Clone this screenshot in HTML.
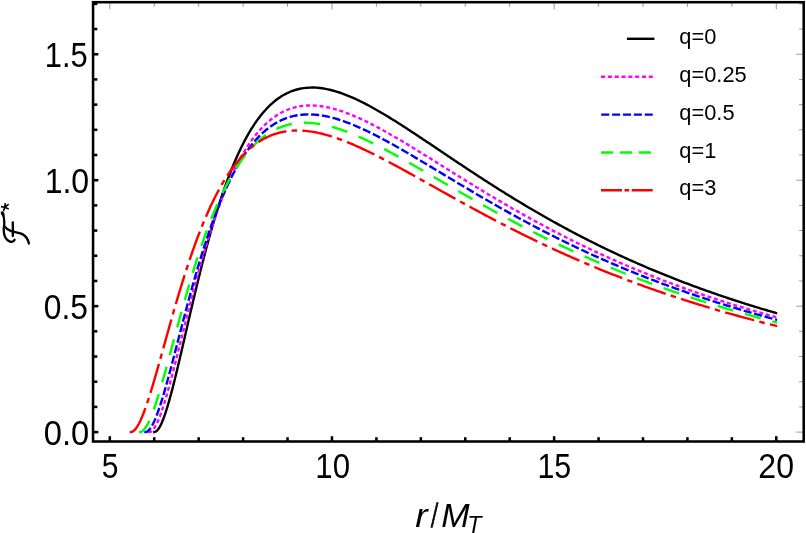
<!DOCTYPE html>
<html lang="en">
<head>
<meta charset="utf-8">
<title>Flux plot</title>
<style>
html,body{margin:0;padding:0;background:#ffffff;}
body{width:806px;height:533px;overflow:hidden;font-family:"Liberation Sans",sans-serif;}
svg{display:block;will-change:transform;}
text{font-family:"Liberation Sans",sans-serif;fill:#000;}
.tick{font-size:33px;}
.leg{font-size:21.6px;}
</style>
</head>
<body>
<svg width="806" height="533" viewBox="0 0 806 533">
<rect x="0" y="0" width="806" height="533" fill="#ffffff"/>
<g fill="none" stroke-width="2.4" stroke-linejoin="round" stroke-linecap="butt">
<path d="M153.13 432.10 L154.23 432.10 L156.10 431.45 L157.57 430.08 L158.76 428.47 L159.80 426.76 L160.73 424.97 L161.58 423.16 L162.37 421.31 L163.12 419.45 L163.83 417.57 L164.51 415.68 L165.17 413.79 L165.80 411.88 L166.41 409.97 L167.01 408.06 L167.60 406.14 L168.17 404.21 L168.73 402.28 L169.28 400.35 L169.82 398.42 L170.36 396.48 L170.88 394.55 L171.40 392.61 L171.91 390.67 L172.42 388.72 L172.92 386.78 L173.42 384.84 L173.91 382.89 L174.39 380.94 L174.88 378.99 L175.36 377.05 L175.84 375.10 L176.31 373.14 L176.78 371.19 L177.25 369.24 L177.72 367.29 L178.18 365.34 L178.65 363.38 L179.11 361.43 L179.57 359.48 L180.03 357.52 L180.48 355.57 L180.94 353.61 L181.39 351.66 L181.85 349.70 L182.30 347.75 L182.75 345.79 L183.21 343.83 L183.66 341.88 L184.11 339.92 L184.56 337.97 L185.01 336.01 L185.46 334.05 L185.91 332.10 L186.36 330.14 L186.81 328.19 L187.27 326.23 L187.72 324.27 L188.17 322.32 L188.62 320.36 L189.07 318.41 L189.53 316.45 L189.98 314.50 L190.44 312.54 L190.89 310.59 L191.35 308.63 L191.81 306.68 L192.27 304.72 L192.73 302.77 L193.19 300.81 L193.65 298.86 L194.11 296.91 L194.58 294.95 L195.04 293.00 L195.51 291.05 L195.98 289.10 L196.45 287.15 L196.92 285.20 L197.40 283.25 L197.87 281.29 L198.35 279.35 L198.83 277.40 L199.31 275.45 L199.80 273.50 L200.28 271.55 L200.77 269.60 L201.26 267.66 L201.75 265.71 L202.25 263.77 L202.75 261.82 L203.25 259.88 L203.75 257.93 L204.25 255.99 L204.76 254.05 L205.27 252.11 L205.79 250.17 L206.30 248.23 L206.82 246.29 L207.35 244.35 L207.87 242.41 L208.40 240.48 L208.93 238.54 L209.47 236.61 L210.01 234.67 L210.56 232.74 L211.10 230.81 L211.65 228.88 L212.21 226.95 L212.77 225.02 L213.33 223.10 L213.90 221.17 L214.47 219.25 L215.05 217.32 L215.63 215.40 L216.22 213.48 L216.81 211.57 L217.41 209.65 L218.01 207.73 L218.61 205.82 L219.23 203.91 L219.84 202.00 L220.47 200.09 L221.10 198.18 L221.73 196.28 L222.37 194.38 L223.02 192.48 L223.67 190.58 L224.34 188.68 L225.00 186.79 L225.68 184.90 L226.36 183.01 L227.05 181.13 L227.75 179.25 L228.45 177.37 L229.17 175.49 L229.89 173.62 L230.62 171.75 L231.36 169.88 L232.11 168.02 L232.87 166.16 L233.64 164.31 L234.42 162.46 L235.21 160.61 L236.01 158.77 L236.82 156.93 L237.64 155.10 L238.48 153.28 L239.32 151.46 L240.18 149.64 L241.06 147.84 L241.94 146.03 L242.84 144.24 L243.76 142.45 L244.69 140.67 L245.64 138.90 L246.60 137.14 L247.58 135.39 L248.57 133.65 L249.59 131.92 L250.62 130.19 L251.67 128.49 L252.75 126.79 L253.84 125.11 L254.96 123.44 L256.09 121.78 L257.26 120.15 L258.44 118.53 L259.65 116.93 L260.89 115.34 L262.15 113.79 L263.44 112.25 L264.77 110.74 L266.12 109.25 L267.50 107.79 L268.91 106.37 L270.35 104.97 L271.83 103.61 L273.34 102.29 L274.88 101.01 L276.46 99.77 L278.08 98.58 L279.73 97.43 L281.41 96.34 L283.12 95.30 L284.87 94.31 L286.66 93.39 L288.47 92.53 L290.31 91.73 L292.18 91.00 L294.08 90.34 L296.00 89.75 L297.93 89.23 L299.89 88.78 L301.86 88.40 L303.85 88.09 L305.84 87.86 L307.84 87.69 L309.84 87.59 L311.85 87.55 L313.86 87.57 L315.86 87.66 L317.87 87.81 L319.86 88.01 L321.85 88.26 L323.84 88.56 L325.81 88.92 L327.78 89.31 L329.74 89.75 L331.69 90.23 L333.63 90.75 L335.56 91.30 L337.48 91.89 L339.39 92.51 L341.29 93.16 L343.18 93.84 L345.05 94.55 L346.92 95.28 L348.78 96.03 L350.64 96.81 L352.48 97.61 L354.31 98.43 L356.14 99.26 L357.95 100.12 L359.76 100.99 L361.56 101.87 L363.36 102.78 L365.14 103.69 L366.92 104.62 L368.69 105.56 L370.46 106.51 L372.22 107.48 L373.98 108.45 L375.73 109.44 L377.47 110.43 L379.21 111.43 L380.94 112.44 L382.67 113.46 L384.40 114.49 L386.12 115.52 L387.84 116.56 L389.55 117.61 L391.26 118.66 L392.96 119.72 L394.67 120.78 L396.37 121.85 L398.06 122.92 L399.76 124.00 L401.45 125.08 L403.14 126.17 L404.83 127.25 L406.51 128.35 L408.19 129.44 L409.87 130.54 L411.55 131.64 L413.23 132.74 L414.91 133.85 L416.58 134.95 L418.25 136.06 L419.93 137.17 L421.60 138.28 L423.27 139.40 L424.94 140.51 L426.61 141.63 L428.27 142.75 L429.94 143.86 L431.61 144.98 L433.27 146.10 L434.94 147.22 L436.61 148.34 L438.27 149.46 L439.94 150.58 L441.60 151.70 L443.27 152.82 L444.94 153.94 L446.60 155.06 L448.27 156.18 L449.94 157.30 L451.61 158.41 L453.27 159.53 L454.94 160.65 L456.61 161.76 L458.28 162.88 L459.95 163.99 L461.62 165.10 L463.29 166.21 L464.97 167.32 L466.64 168.43 L468.32 169.54 L469.99 170.64 L471.67 171.75 L473.35 172.85 L475.02 173.95 L476.70 175.05 L478.39 176.14 L480.07 177.24 L481.75 178.33 L483.44 179.42 L485.12 180.51 L486.81 181.60 L488.50 182.69 L490.19 183.77 L491.88 184.85 L493.57 185.93 L495.27 187.00 L496.96 188.08 L498.66 189.15 L500.36 190.22 L502.06 191.28 L503.76 192.35 L505.47 193.41 L507.17 194.47 L508.88 195.52 L510.59 196.58 L512.30 197.63 L514.01 198.68 L515.73 199.72 L517.44 200.76 L519.16 201.80 L520.88 202.84 L522.60 203.87 L524.32 204.90 L526.05 205.93 L527.77 206.96 L529.50 207.98 L531.23 209.00 L532.96 210.01 L534.69 211.02 L536.43 212.03 L538.17 213.04 L539.91 214.04 L541.65 215.04 L543.39 216.04 L545.13 217.03 L546.88 218.02 L548.63 219.01 L550.38 219.99 L552.13 220.97 L553.89 221.95 L555.64 222.92 L557.40 223.89 L559.16 224.85 L560.92 225.82 L562.68 226.78 L564.45 227.73 L566.22 228.68 L567.98 229.63 L569.76 230.58 L571.53 231.52 L573.30 232.46 L575.08 233.39 L576.86 234.32 L578.64 235.25 L580.42 236.18 L582.20 237.10 L583.99 238.01 L585.78 238.93 L587.57 239.84 L589.36 240.74 L591.15 241.64 L592.95 242.54 L594.74 243.44 L596.54 244.33 L598.34 245.22 L600.15 246.10 L601.95 246.98 L603.76 247.86 L605.56 248.73 L607.37 249.60 L609.18 250.46 L611.00 251.33 L612.81 252.18 L614.63 253.04 L616.45 253.89 L618.27 254.74 L620.09 255.58 L621.91 256.42 L623.74 257.25 L625.56 258.09 L627.39 258.91 L629.22 259.74 L631.05 260.56 L632.89 261.38 L634.72 262.19 L636.56 263.00 L638.40 263.81 L640.24 264.61 L642.08 265.41 L643.92 266.20 L645.77 266.99 L647.62 267.78 L649.46 268.56 L651.31 269.34 L653.16 270.12 L655.02 270.89 L656.87 271.66 L658.73 272.43 L660.58 273.19 L662.44 273.95 L664.30 274.70 L666.16 275.45 L668.03 276.20 L669.89 276.94 L671.76 277.68 L673.63 278.42 L675.49 279.15 L677.37 279.88 L679.24 280.61 L681.11 281.33 L682.98 282.05 L684.86 282.76 L686.74 283.47 L688.62 284.18 L690.50 284.88 L692.38 285.58 L694.26 286.28 L696.14 286.97 L698.03 287.66 L699.91 288.35 L701.80 289.03 L703.69 289.71 L705.58 290.39 L707.47 291.06 L709.37 291.73 L711.26 292.40 L713.15 293.06 L715.05 293.72 L716.95 294.37 L718.85 295.03 L720.75 295.67 L722.65 296.32 L724.55 296.96 L726.45 297.60 L728.36 298.24 L730.26 298.87 L732.17 299.50 L734.08 300.12 L735.98 300.74 L737.89 301.36 L739.80 301.98 L741.72 302.59 L743.63 303.20 L745.54 303.81 L747.46 304.41 L749.37 305.01 L751.29 305.60 L753.21 306.20 L755.13 306.79 L757.05 307.37 L758.97 307.96 L760.89 308.54 L762.81 309.12 L764.73 309.69 L766.66 310.26 L768.58 310.83 L770.51 311.40 L772.44 311.96 L774.36 312.52 L776.29 313.07 L777.16 313.31" stroke="#000000"/>
<path d="M148.16 432.10 L149.26 432.10 L151.15 431.49 L152.67 430.19 L153.92 428.63 L155.01 426.94 L155.99 425.18 L156.89 423.39 L157.73 421.56 L158.52 419.72 L159.27 417.85 L159.99 415.98 L160.69 414.09 L161.36 412.20 L162.01 410.30 L162.65 408.39 L163.27 406.48 L163.87 404.57 L164.47 402.65 L165.05 400.73 L165.63 398.80 L166.19 396.87 L166.75 394.94 L167.30 393.01 L167.85 391.08 L168.39 389.14 L168.92 387.21 L169.45 385.27 L169.97 383.33 L170.49 381.39 L171.01 379.45 L171.52 377.51 L172.03 375.56 L172.54 373.62 L173.04 371.67 L173.54 369.73 L174.04 367.78 L174.54 365.84 L175.03 363.89 L175.52 361.94 L176.02 359.99 L176.51 358.05 L177.00 356.10 L177.49 354.15 L177.97 352.20 L178.46 350.25 L178.95 348.30 L179.43 346.35 L179.92 344.40 L180.40 342.45 L180.89 340.50 L181.37 338.55 L181.86 336.60 L182.34 334.65 L182.83 332.71 L183.31 330.76 L183.80 328.81 L184.28 326.86 L184.77 324.91 L185.26 322.96 L185.75 321.01 L186.23 319.06 L186.72 317.11 L187.22 315.17 L187.71 313.22 L188.20 311.27 L188.69 309.32 L189.19 307.38 L189.69 305.43 L190.19 303.48 L190.69 301.54 L191.19 299.59 L191.69 297.65 L192.20 295.70 L192.70 293.76 L193.21 291.82 L193.72 289.87 L194.23 287.93 L194.75 285.99 L195.27 284.05 L195.78 282.11 L196.31 280.17 L196.83 278.23 L197.36 276.29 L197.89 274.35 L198.42 272.41 L198.95 270.48 L199.49 268.54 L200.03 266.61 L200.57 264.67 L201.12 262.74 L201.67 260.81 L202.22 258.88 L202.78 256.95 L203.34 255.02 L203.90 253.09 L204.47 251.16 L205.04 249.24 L205.61 247.31 L206.19 245.39 L206.77 243.46 L207.36 241.54 L207.95 239.62 L208.55 237.70 L209.15 235.79 L209.75 233.87 L210.36 231.96 L210.97 230.04 L211.59 228.13 L212.22 226.22 L212.85 224.32 L213.48 222.41 L214.12 220.51 L214.77 218.60 L215.42 216.70 L216.08 214.81 L216.75 212.91 L217.42 211.02 L218.09 209.13 L218.78 207.24 L219.47 205.35 L220.17 203.47 L220.87 201.59 L221.59 199.71 L222.31 197.83 L223.04 195.96 L223.78 194.09 L224.52 192.23 L225.28 190.37 L226.04 188.51 L226.81 186.65 L227.60 184.80 L228.39 182.96 L229.19 181.12 L230.00 179.28 L230.83 177.45 L231.66 175.62 L232.51 173.80 L233.37 171.98 L234.24 170.17 L235.12 168.37 L236.02 166.57 L236.93 164.78 L237.85 162.99 L238.79 161.22 L239.74 159.45 L240.71 157.69 L241.70 155.94 L242.70 154.20 L243.72 152.47 L244.76 150.75 L245.81 149.04 L246.88 147.34 L247.98 145.65 L249.09 143.98 L250.23 142.32 L251.38 140.68 L252.56 139.06 L253.77 137.45 L254.99 135.86 L256.25 134.29 L257.53 132.74 L258.83 131.21 L260.16 129.71 L261.52 128.23 L262.91 126.78 L264.33 125.36 L265.78 123.97 L267.26 122.61 L268.77 121.29 L270.32 120.00 L271.90 118.76 L273.50 117.55 L275.15 116.40 L276.82 115.28 L278.53 114.22 L280.26 113.22 L282.03 112.26 L283.83 111.37 L285.66 110.53 L287.51 109.75 L289.39 109.04 L291.29 108.39 L293.21 107.80 L295.15 107.29 L297.11 106.83 L299.08 106.44 L301.06 106.12 L303.05 105.86 L305.05 105.67 L307.06 105.54 L309.06 105.47 L311.07 105.45 L313.08 105.50 L315.09 105.60 L317.09 105.75 L319.09 105.95 L321.08 106.20 L323.07 106.49 L325.05 106.83 L327.02 107.21 L328.99 107.63 L330.94 108.08 L332.89 108.57 L334.83 109.09 L336.76 109.65 L338.69 110.23 L340.60 110.84 L342.50 111.48 L344.40 112.15 L346.29 112.83 L348.17 113.54 L350.04 114.28 L351.90 115.03 L353.76 115.80 L355.60 116.58 L357.44 117.39 L359.28 118.21 L361.10 119.05 L362.92 119.90 L364.74 120.76 L366.55 121.64 L368.35 122.52 L370.14 123.42 L371.93 124.34 L373.72 125.26 L375.50 126.19 L377.27 127.13 L379.05 128.08 L380.81 129.03 L382.57 130.00 L384.33 130.97 L386.09 131.95 L387.84 132.93 L389.58 133.93 L391.33 134.92 L393.07 135.93 L394.81 136.93 L396.54 137.95 L398.27 138.96 L400.00 139.99 L401.73 141.01 L403.46 142.04 L405.18 143.07 L406.90 144.11 L408.62 145.15 L410.34 146.19 L412.05 147.24 L413.77 148.28 L415.48 149.33 L417.19 150.39 L418.90 151.44 L420.61 152.49 L422.32 153.55 L424.03 154.61 L425.73 155.67 L427.44 156.73 L429.14 157.79 L430.85 158.85 L432.55 159.92 L434.26 160.98 L435.96 162.04 L437.67 163.11 L439.37 164.17 L441.07 165.24 L442.78 166.30 L444.48 167.37 L446.18 168.43 L447.89 169.50 L449.59 170.56 L451.30 171.62 L453.00 172.68 L454.71 173.75 L456.41 174.81 L458.12 175.87 L459.83 176.93 L461.54 177.98 L463.24 179.04 L464.95 180.10 L466.66 181.15 L468.37 182.20 L470.09 183.26 L471.80 184.31 L473.51 185.35 L475.23 186.40 L476.94 187.45 L478.66 188.49 L480.38 189.53 L482.09 190.57 L483.81 191.61 L485.53 192.65 L487.26 193.68 L488.98 194.71 L490.71 195.74 L492.43 196.77 L494.16 197.80 L495.89 198.82 L497.62 199.84 L499.35 200.86 L501.08 201.88 L502.82 202.89 L504.55 203.90 L506.29 204.91 L508.03 205.92 L509.77 206.92 L511.51 207.92 L513.25 208.92 L515.00 209.92 L516.74 210.91 L518.49 211.90 L520.24 212.89 L521.99 213.87 L523.74 214.86 L525.50 215.84 L527.25 216.81 L529.01 217.79 L530.77 218.76 L532.53 219.72 L534.29 220.69 L536.05 221.65 L537.82 222.61 L539.59 223.56 L541.36 224.52 L543.13 225.47 L544.90 226.41 L546.67 227.35 L548.45 228.29 L550.23 229.23 L552.00 230.16 L553.79 231.09 L555.57 232.02 L557.35 232.94 L559.14 233.86 L560.93 234.78 L562.71 235.69 L564.51 236.60 L566.30 237.51 L568.09 238.41 L569.89 239.31 L571.69 240.21 L573.49 241.10 L575.29 241.99 L577.09 242.88 L578.89 243.76 L580.70 244.64 L582.51 245.52 L584.32 246.39 L586.13 247.26 L587.94 248.12 L589.76 248.98 L591.57 249.84 L593.39 250.70 L595.21 251.55 L597.03 252.40 L598.85 253.24 L600.68 254.08 L602.51 254.92 L604.33 255.75 L606.16 256.58 L607.99 257.41 L609.83 258.23 L611.66 259.05 L613.50 259.87 L615.33 260.68 L617.17 261.49 L619.01 262.30 L620.85 263.10 L622.70 263.89 L624.54 264.69 L626.39 265.48 L628.24 266.27 L630.09 267.05 L631.94 267.83 L633.79 268.61 L635.65 269.38 L637.50 270.15 L639.36 270.92 L641.22 271.68 L643.08 272.44 L644.94 273.20 L646.80 273.95 L648.66 274.70 L650.53 275.44 L652.40 276.18 L654.27 276.92 L656.14 277.65 L658.01 278.38 L659.88 279.11 L661.75 279.84 L663.63 280.56 L665.51 281.27 L667.38 281.99 L669.26 282.70 L671.14 283.40 L673.03 284.11 L674.91 284.81 L676.79 285.50 L678.68 286.19 L680.57 286.88 L682.45 287.57 L684.34 288.25 L686.23 288.93 L688.13 289.61 L690.02 290.28 L691.91 290.95 L693.81 291.61 L695.70 292.28 L697.60 292.93 L699.50 293.59 L701.40 294.24 L703.30 294.89 L705.21 295.54 L707.11 296.18 L709.01 296.82 L710.92 297.45 L712.83 298.09 L714.73 298.72 L716.64 299.34 L718.55 299.96 L720.46 300.58 L722.37 301.20 L724.29 301.81 L726.20 302.42 L728.12 303.03 L730.03 303.63 L731.95 304.24 L733.87 304.83 L735.79 305.43 L737.71 306.02 L739.63 306.61 L741.55 307.19 L743.47 307.77 L745.40 308.35 L747.32 308.93 L749.25 309.50 L751.17 310.07 L753.10 310.64 L755.03 311.20 L756.96 311.76 L758.89 312.32 L760.82 312.87 L762.75 313.43 L764.68 313.97 L766.62 314.52 L768.55 315.06 L770.48 315.60 L772.42 316.14 L774.36 316.68 L776.29 317.20 L777.16 317.44" stroke="#ff00ff" stroke-dasharray="4.06 2.72" stroke-dashoffset="0"/>
<path d="M144.29 432.10 L145.39 432.10 L147.29 431.52 L148.84 430.25 L150.13 428.71 L151.24 427.04 L152.25 425.30 L153.17 423.52 L154.03 421.70 L154.85 419.87 L155.62 418.01 L156.37 416.15 L157.08 414.27 L157.77 412.38 L158.44 410.49 L159.10 408.59 L159.74 406.69 L160.36 404.78 L160.98 402.87 L161.58 400.95 L162.17 399.03 L162.76 397.11 L163.33 395.18 L163.90 393.26 L164.46 391.33 L165.02 389.40 L165.57 387.47 L166.12 385.53 L166.66 383.60 L167.19 381.66 L167.73 379.73 L168.26 377.79 L168.78 375.85 L169.31 373.91 L169.83 371.97 L170.35 370.03 L170.86 368.09 L171.38 366.15 L171.89 364.20 L172.40 362.26 L172.91 360.32 L173.42 358.37 L173.92 356.43 L174.43 354.49 L174.93 352.54 L175.44 350.60 L175.94 348.65 L176.45 346.71 L176.95 344.76 L177.45 342.82 L177.96 340.87 L178.46 338.93 L178.96 336.98 L179.47 335.04 L179.97 333.10 L180.47 331.15 L180.98 329.21 L181.48 327.26 L181.99 325.32 L182.50 323.37 L183.00 321.43 L183.51 319.49 L184.02 317.54 L184.53 315.60 L185.05 313.66 L185.56 311.72 L186.07 309.78 L186.59 307.83 L187.11 305.89 L187.63 303.95 L188.15 302.01 L188.67 300.07 L189.20 298.13 L189.73 296.20 L190.25 294.26 L190.79 292.32 L191.32 290.38 L191.86 288.45 L192.39 286.51 L192.93 284.58 L193.48 282.64 L194.02 280.71 L194.57 278.78 L195.12 276.85 L195.68 274.92 L196.23 272.99 L196.80 271.06 L197.36 269.13 L197.93 267.20 L198.50 265.28 L199.07 263.35 L199.65 261.43 L200.23 259.50 L200.81 257.58 L201.40 255.66 L201.99 253.74 L202.59 251.82 L203.19 249.91 L203.80 247.99 L204.40 246.08 L205.02 244.16 L205.64 242.25 L206.26 240.34 L206.89 238.44 L207.52 236.53 L208.16 234.63 L208.81 232.72 L209.46 230.82 L210.11 228.92 L210.77 227.03 L211.44 225.13 L212.11 223.24 L212.79 221.35 L213.48 219.46 L214.17 217.57 L214.87 215.69 L215.58 213.81 L216.29 211.93 L217.01 210.06 L217.74 208.19 L218.48 206.32 L219.22 204.45 L219.98 202.59 L220.74 200.73 L221.51 198.88 L222.29 197.03 L223.08 195.18 L223.88 193.34 L224.69 191.50 L225.51 189.66 L226.34 187.83 L227.18 186.01 L228.03 184.19 L228.89 182.38 L229.77 180.57 L230.66 178.77 L231.56 176.97 L232.47 175.18 L233.40 173.40 L234.34 171.63 L235.30 169.86 L236.27 168.10 L237.26 166.35 L238.26 164.61 L239.28 162.88 L240.32 161.16 L241.37 159.45 L242.45 157.75 L243.54 156.07 L244.65 154.40 L245.79 152.74 L246.94 151.09 L248.12 149.46 L249.31 147.85 L250.54 146.26 L251.78 144.68 L253.05 143.13 L254.35 141.59 L255.67 140.08 L257.02 138.59 L258.40 137.13 L259.80 135.69 L261.24 134.29 L262.70 132.91 L264.20 131.57 L265.72 130.27 L267.28 129.00 L268.87 127.77 L270.49 126.58 L272.14 125.43 L273.82 124.34 L275.54 123.29 L277.28 122.29 L279.05 121.35 L280.85 120.46 L282.68 119.62 L284.53 118.85 L286.41 118.14 L288.31 117.49 L290.23 116.90 L292.17 116.37 L294.13 115.91 L296.10 115.51 L298.08 115.17 L300.07 114.90 L302.06 114.69 L304.07 114.53 L306.07 114.44 L308.08 114.40 L310.09 114.42 L312.10 114.48 L314.10 114.60 L316.10 114.77 L318.10 114.99 L320.09 115.25 L322.08 115.55 L324.06 115.90 L326.03 116.28 L327.99 116.70 L329.95 117.15 L331.90 117.63 L333.84 118.15 L335.77 118.70 L337.70 119.27 L339.62 119.88 L341.52 120.50 L343.43 121.15 L345.32 121.82 L347.20 122.52 L349.08 123.23 L350.95 123.97 L352.81 124.72 L354.67 125.49 L356.52 126.27 L358.36 127.07 L360.20 127.88 L362.03 128.71 L363.85 129.55 L365.67 130.41 L367.48 131.27 L369.29 132.15 L371.09 133.03 L372.89 133.93 L374.69 134.84 L376.47 135.75 L378.26 136.67 L380.04 137.61 L381.81 138.54 L383.59 139.49 L385.35 140.44 L387.12 141.40 L388.88 142.37 L390.64 143.34 L392.40 144.31 L394.15 145.29 L395.90 146.28 L397.65 147.27 L399.39 148.26 L401.14 149.26 L402.88 150.26 L404.62 151.27 L406.35 152.28 L408.09 153.29 L409.82 154.30 L411.56 155.32 L413.29 156.34 L415.02 157.36 L416.75 158.38 L418.47 159.41 L420.20 160.43 L421.93 161.46 L423.65 162.49 L425.38 163.52 L427.10 164.55 L428.82 165.59 L430.54 166.62 L432.27 167.65 L433.99 168.69 L435.71 169.72 L437.43 170.76 L439.15 171.79 L440.87 172.83 L442.60 173.87 L444.32 174.90 L446.04 175.94 L447.76 176.97 L449.48 178.01 L451.20 179.04 L452.93 180.07 L454.65 181.10 L456.37 182.14 L458.10 183.17 L459.82 184.20 L461.55 185.23 L463.27 186.25 L465.00 187.28 L466.73 188.30 L468.46 189.33 L470.19 190.35 L471.92 191.37 L473.65 192.39 L475.38 193.41 L477.11 194.42 L478.85 195.44 L480.58 196.45 L482.32 197.46 L484.05 198.47 L485.79 199.48 L487.53 200.48 L489.27 201.49 L491.01 202.49 L492.76 203.49 L494.50 204.48 L496.25 205.48 L497.99 206.47 L499.74 207.46 L501.49 208.45 L503.24 209.43 L504.99 210.41 L506.75 211.39 L508.50 212.37 L510.26 213.35 L512.02 214.32 L513.78 215.29 L515.54 216.25 L517.30 217.22 L519.06 218.18 L520.83 219.14 L522.59 220.10 L524.36 221.05 L526.13 222.00 L527.90 222.95 L529.68 223.89 L531.45 224.83 L533.23 225.77 L535.00 226.71 L536.78 227.64 L538.56 228.57 L540.35 229.50 L542.13 230.42 L543.91 231.34 L545.70 232.26 L547.49 233.17 L549.28 234.08 L551.07 234.99 L552.87 235.90 L554.66 236.80 L556.46 237.70 L558.26 238.59 L560.06 239.49 L561.86 240.37 L563.66 241.26 L565.46 242.14 L567.27 243.02 L569.08 243.90 L570.89 244.77 L572.70 245.64 L574.51 246.50 L576.33 247.37 L578.14 248.22 L579.96 249.08 L581.78 249.93 L583.60 250.78 L585.42 251.63 L587.25 252.47 L589.07 253.31 L590.90 254.14 L592.73 254.97 L594.56 255.80 L596.39 256.63 L598.22 257.45 L600.06 258.26 L601.89 259.08 L603.73 259.89 L605.57 260.70 L607.41 261.50 L609.25 262.30 L611.10 263.10 L612.94 263.89 L614.79 264.68 L616.64 265.47 L618.49 266.25 L620.34 267.03 L622.19 267.81 L624.05 268.58 L625.90 269.35 L627.76 270.11 L629.62 270.88 L631.48 271.64 L633.34 272.39 L635.20 273.14 L637.07 273.89 L638.93 274.64 L640.80 275.38 L642.67 276.12 L644.54 276.85 L646.41 277.58 L648.28 278.31 L650.15 279.03 L652.03 279.75 L653.91 280.47 L655.78 281.19 L657.66 281.90 L659.54 282.60 L661.42 283.31 L663.31 284.01 L665.19 284.70 L667.08 285.40 L668.96 286.09 L670.85 286.78 L672.74 287.46 L674.63 288.14 L676.52 288.82 L678.41 289.49 L680.31 290.16 L682.20 290.83 L684.10 291.49 L686.00 292.15 L687.89 292.81 L689.79 293.46 L691.69 294.11 L693.60 294.76 L695.50 295.40 L697.40 296.04 L699.31 296.68 L701.21 297.31 L703.12 297.94 L705.03 298.57 L706.94 299.20 L708.85 299.82 L710.76 300.44 L712.67 301.05 L714.59 301.66 L716.50 302.27 L718.42 302.88 L720.33 303.48 L722.25 304.08 L724.17 304.68 L726.09 305.27 L728.01 305.86 L729.93 306.45 L731.85 307.03 L733.77 307.61 L735.70 308.19 L737.62 308.76 L739.55 309.33 L741.47 309.90 L743.40 310.47 L745.33 311.03 L747.26 311.59 L749.19 312.15 L751.12 312.70 L753.05 313.25 L754.98 313.80 L756.92 314.35 L758.85 314.89 L760.79 315.43 L762.72 315.97 L764.66 316.50 L766.60 317.03 L768.53 317.56 L770.47 318.08 L772.41 318.61 L774.35 319.13 L776.29 319.64 L777.17 319.87" stroke="#0000ff" stroke-dasharray="8.12 2.73" stroke-dashoffset="0"/>
<path d="M138.89 432.10 L139.99 432.10 L141.89 431.54 L143.47 430.31 L144.78 428.80 L145.92 427.15 L146.96 425.43 L147.90 423.67 L148.79 421.87 L149.62 420.04 L150.42 418.20 L151.18 416.35 L151.92 414.48 L152.63 412.61 L153.32 410.73 L153.99 408.84 L154.65 406.94 L155.29 405.04 L155.92 403.14 L156.54 401.23 L157.15 399.32 L157.75 397.41 L158.35 395.50 L158.93 393.58 L159.51 391.66 L160.08 389.74 L160.65 387.81 L161.21 385.89 L161.77 383.96 L162.32 382.04 L162.87 380.11 L163.42 378.18 L163.96 376.25 L164.50 374.32 L165.04 372.38 L165.57 370.45 L166.10 368.52 L166.64 366.59 L167.16 364.65 L167.69 362.72 L168.22 360.78 L168.74 358.85 L169.27 356.91 L169.79 354.98 L170.31 353.04 L170.83 351.10 L171.35 349.17 L171.87 347.23 L172.39 345.29 L172.91 343.36 L173.43 341.42 L173.96 339.49 L174.48 337.55 L175.00 335.61 L175.52 333.68 L176.04 331.74 L176.56 329.81 L177.09 327.87 L177.61 325.93 L178.14 324.00 L178.66 322.06 L179.19 320.13 L179.72 318.20 L180.25 316.26 L180.78 314.33 L181.31 312.40 L181.85 310.46 L182.39 308.53 L182.92 306.60 L183.46 304.67 L184.01 302.74 L184.55 300.81 L185.10 298.88 L185.64 296.95 L186.19 295.02 L186.75 293.10 L187.30 291.17 L187.86 289.24 L188.42 287.32 L188.98 285.39 L189.55 283.47 L190.12 281.55 L190.69 279.63 L191.27 277.70 L191.84 275.78 L192.43 273.87 L193.01 271.95 L193.60 270.03 L194.19 268.12 L194.79 266.20 L195.39 264.29 L195.99 262.38 L196.60 260.46 L197.21 258.56 L197.83 256.65 L198.45 254.74 L199.07 252.84 L199.70 250.93 L200.34 249.03 L200.98 247.13 L201.62 245.23 L202.27 243.33 L202.93 241.44 L203.59 239.55 L204.25 237.65 L204.92 235.77 L205.60 233.88 L206.29 231.99 L206.98 230.11 L207.67 228.23 L208.38 226.35 L209.09 224.48 L209.80 222.61 L210.53 220.74 L211.26 218.87 L212.00 217.01 L212.75 215.14 L213.50 213.29 L214.26 211.43 L215.04 209.58 L215.82 207.74 L216.61 205.89 L217.41 204.05 L218.22 202.22 L219.04 200.39 L219.86 198.56 L220.70 196.74 L221.55 194.93 L222.42 193.12 L223.29 191.31 L224.18 189.51 L225.07 187.72 L225.98 185.93 L226.91 184.15 L227.84 182.38 L228.79 180.62 L229.76 178.86 L230.74 177.11 L231.73 175.37 L232.75 173.64 L233.77 171.91 L234.82 170.20 L235.88 168.50 L236.96 166.81 L238.06 165.14 L239.18 163.47 L240.32 161.82 L241.47 160.19 L242.65 158.56 L243.86 156.96 L245.08 155.37 L246.33 153.80 L247.60 152.25 L248.90 150.72 L250.22 149.22 L251.57 147.73 L252.95 146.28 L254.35 144.84 L255.78 143.44 L257.24 142.07 L258.73 140.72 L260.25 139.42 L261.80 138.14 L263.38 136.91 L264.99 135.71 L266.63 134.56 L268.30 133.45 L270.00 132.39 L271.73 131.37 L273.49 130.41 L275.27 129.50 L277.09 128.64 L278.93 127.84 L280.79 127.10 L282.67 126.41 L284.58 125.79 L286.50 125.22 L288.44 124.72 L290.40 124.27 L292.36 123.89 L294.34 123.57 L296.33 123.30 L298.32 123.09 L300.32 122.94 L302.33 122.85 L304.33 122.81 L306.34 122.82 L308.34 122.88 L310.34 123.00 L312.34 123.15 L314.34 123.36 L316.33 123.60 L318.31 123.89 L320.29 124.21 L322.26 124.57 L324.23 124.97 L326.19 125.40 L328.14 125.86 L330.08 126.36 L332.02 126.88 L333.94 127.43 L335.87 128.00 L337.78 128.60 L339.68 129.22 L341.58 129.87 L343.48 130.53 L345.36 131.22 L347.24 131.92 L349.11 132.64 L350.97 133.38 L352.83 134.13 L354.68 134.90 L356.53 135.69 L358.37 136.48 L360.20 137.29 L362.03 138.12 L363.85 138.95 L365.67 139.80 L367.49 140.65 L369.29 141.52 L371.10 142.39 L372.90 143.27 L374.69 144.17 L376.49 145.07 L378.27 145.97 L380.06 146.89 L381.84 147.81 L383.62 148.74 L385.39 149.67 L387.16 150.61 L388.93 151.55 L390.70 152.50 L392.46 153.46 L394.22 154.42 L395.98 155.38 L397.74 156.35 L399.49 157.32 L401.24 158.29 L402.99 159.27 L404.74 160.25 L406.49 161.23 L408.24 162.22 L409.98 163.21 L411.72 164.20 L413.47 165.19 L415.21 166.19 L416.95 167.18 L418.69 168.18 L420.42 169.18 L422.16 170.18 L423.90 171.18 L425.63 172.19 L427.37 173.19 L429.11 174.19 L430.84 175.20 L432.58 176.20 L434.31 177.21 L436.04 178.22 L437.78 179.22 L439.51 180.23 L441.25 181.23 L442.98 182.24 L444.72 183.25 L446.45 184.25 L448.19 185.25 L449.92 186.26 L451.66 187.26 L453.40 188.26 L455.13 189.27 L456.87 190.27 L458.61 191.27 L460.35 192.26 L462.09 193.26 L463.83 194.26 L465.57 195.25 L467.31 196.25 L469.05 197.24 L470.80 198.23 L472.54 199.22 L474.28 200.21 L476.03 201.19 L477.78 202.18 L479.52 203.16 L481.27 204.14 L483.02 205.12 L484.77 206.10 L486.53 207.07 L488.28 208.04 L490.03 209.01 L491.79 209.98 L493.55 210.95 L495.31 211.91 L497.06 212.87 L498.83 213.83 L500.59 214.79 L502.35 215.75 L504.11 216.70 L505.88 217.65 L507.65 218.60 L509.42 219.54 L511.19 220.48 L512.96 221.42 L514.73 222.36 L516.50 223.30 L518.28 224.23 L520.06 225.16 L521.83 226.08 L523.61 227.01 L525.39 227.93 L527.18 228.85 L528.96 229.76 L530.75 230.67 L532.53 231.58 L534.32 232.49 L536.11 233.39 L537.90 234.29 L539.70 235.19 L541.49 236.08 L543.29 236.98 L545.08 237.86 L546.88 238.75 L548.68 239.63 L550.49 240.51 L552.29 241.39 L554.09 242.26 L555.90 243.13 L557.71 244.00 L559.52 244.86 L561.33 245.72 L563.14 246.58 L564.96 247.43 L566.77 248.28 L568.59 249.13 L570.41 249.97 L572.23 250.81 L574.05 251.65 L575.87 252.49 L577.70 253.32 L579.53 254.15 L581.35 254.97 L583.18 255.79 L585.01 256.61 L586.85 257.42 L588.68 258.23 L590.51 259.04 L592.35 259.85 L594.19 260.65 L596.03 261.45 L597.87 262.24 L599.71 263.03 L601.56 263.82 L603.40 264.60 L605.25 265.38 L607.10 266.16 L608.95 266.93 L610.80 267.71 L612.65 268.47 L614.50 269.24 L616.36 270.00 L618.21 270.75 L620.07 271.51 L621.93 272.26 L623.79 273.01 L625.65 273.75 L627.52 274.49 L629.38 275.23 L631.25 275.96 L633.12 276.69 L634.98 277.42 L636.85 278.14 L638.73 278.86 L640.60 279.58 L642.47 280.29 L644.35 281.00 L646.22 281.71 L648.10 282.41 L649.98 283.11 L651.86 283.81 L653.74 284.50 L655.62 285.19 L657.51 285.88 L659.39 286.56 L661.28 287.24 L663.17 287.92 L665.06 288.60 L666.94 289.27 L668.84 289.93 L670.73 290.60 L672.62 291.26 L674.51 291.92 L676.41 292.57 L678.31 293.22 L680.20 293.87 L682.10 294.51 L684.00 295.15 L685.90 295.79 L687.81 296.43 L689.71 297.06 L691.61 297.69 L693.52 298.31 L695.42 298.94 L697.33 299.55 L699.24 300.17 L701.15 300.78 L703.06 301.39 L704.97 302.00 L706.88 302.60 L708.79 303.20 L710.71 303.80 L712.62 304.40 L714.54 304.99 L716.46 305.58 L718.37 306.16 L720.29 306.74 L722.21 307.32 L724.13 307.90 L726.05 308.47 L727.98 309.04 L729.90 309.61 L731.82 310.18 L733.75 310.74 L735.67 311.30 L737.60 311.85 L739.53 312.41 L741.45 312.96 L743.38 313.50 L745.31 314.05 L747.24 314.59 L749.18 315.13 L751.11 315.66 L753.04 316.20 L754.97 316.73 L756.91 317.25 L758.84 317.78 L760.78 318.30 L762.72 318.82 L764.65 319.34 L766.59 319.85 L768.53 320.36 L770.47 320.87 L772.41 321.37 L774.35 321.88 L776.29 322.37 L777.17 322.59" stroke="#00ff00" stroke-dasharray="16.25 12.18" stroke-dashoffset="0"/>
<path d="M129.67 432.10 L130.77 432.10 L132.69 431.56 L134.29 430.36 L135.63 428.87 L136.80 427.24 L137.86 425.53 L138.83 423.77 L139.74 421.98 L140.60 420.17 L141.41 418.33 L142.20 416.48 L142.95 414.62 L143.68 412.75 L144.39 410.87 L145.08 408.99 L145.76 407.10 L146.42 405.20 L147.07 403.30 L147.71 401.40 L148.34 399.49 L148.96 397.58 L149.57 395.67 L150.17 393.75 L150.77 391.83 L151.36 389.91 L151.94 387.99 L152.52 386.07 L153.10 384.15 L153.67 382.22 L154.23 380.29 L154.80 378.37 L155.36 376.44 L155.91 374.51 L156.47 372.58 L157.02 370.65 L157.57 368.72 L158.12 366.78 L158.66 364.85 L159.21 362.92 L159.75 360.99 L160.29 359.05 L160.84 357.12 L161.38 355.19 L161.92 353.25 L162.46 351.32 L162.99 349.38 L163.53 347.45 L164.07 345.51 L164.61 343.58 L165.15 341.64 L165.69 339.71 L166.23 337.78 L166.77 335.84 L167.31 333.91 L167.85 331.97 L168.39 330.04 L168.94 328.11 L169.48 326.17 L170.03 324.24 L170.57 322.31 L171.12 320.38 L171.67 318.45 L172.22 316.51 L172.77 314.58 L173.33 312.65 L173.88 310.72 L174.44 308.80 L175.00 306.87 L175.56 304.94 L176.13 303.01 L176.69 301.09 L177.26 299.16 L177.83 297.23 L178.41 295.31 L178.98 293.39 L179.56 291.46 L180.15 289.54 L180.73 287.62 L181.32 285.70 L181.91 283.78 L182.50 281.86 L183.10 279.95 L183.70 278.03 L184.31 276.12 L184.92 274.20 L185.53 272.29 L186.15 270.38 L186.77 268.47 L187.39 266.56 L188.02 264.65 L188.65 262.75 L189.29 260.84 L189.93 258.94 L190.58 257.04 L191.23 255.14 L191.89 253.24 L192.55 251.35 L193.22 249.45 L193.89 247.56 L194.57 245.67 L195.25 243.78 L195.94 241.90 L196.64 240.01 L197.34 238.13 L198.05 236.25 L198.77 234.38 L199.49 232.50 L200.22 230.63 L200.96 228.76 L201.70 226.90 L202.45 225.04 L203.21 223.18 L203.98 221.32 L204.76 219.47 L205.54 217.62 L206.33 215.78 L207.14 213.94 L207.95 212.10 L208.77 210.27 L209.60 208.44 L210.44 206.62 L211.30 204.80 L212.16 202.99 L213.03 201.18 L213.92 199.38 L214.82 197.58 L215.73 195.79 L216.65 194.01 L217.59 192.23 L218.53 190.46 L219.50 188.70 L220.47 186.94 L221.47 185.20 L222.47 183.46 L223.50 181.73 L224.54 180.01 L225.59 178.31 L226.67 176.61 L227.76 174.93 L228.87 173.25 L230.00 171.59 L231.15 169.95 L232.32 168.31 L233.51 166.70 L234.72 165.10 L235.96 163.51 L237.22 161.95 L238.50 160.40 L239.81 158.88 L241.14 157.37 L242.49 155.89 L243.88 154.44 L245.29 153.01 L246.73 151.61 L248.19 150.23 L249.69 148.89 L251.21 147.58 L252.76 146.31 L254.34 145.08 L255.96 143.88 L257.60 142.72 L259.27 141.61 L260.97 140.54 L262.70 139.52 L264.45 138.54 L266.24 137.62 L268.05 136.75 L269.88 135.93 L271.74 135.17 L273.62 134.47 L275.52 133.82 L277.44 133.23 L279.38 132.70 L281.33 132.23 L283.29 131.81 L285.27 131.46 L287.26 131.16 L289.25 130.92 L291.25 130.74 L293.25 130.60 L295.26 130.53 L297.27 130.50 L299.28 130.52 L301.28 130.59 L303.29 130.71 L305.29 130.87 L307.29 131.08 L309.28 131.32 L311.27 131.60 L313.25 131.92 L315.23 132.28 L317.20 132.67 L319.16 133.09 L321.12 133.54 L323.06 134.03 L325.01 134.54 L326.94 135.07 L328.87 135.63 L330.79 136.22 L332.71 136.82 L334.61 137.45 L336.51 138.10 L338.41 138.76 L340.30 139.45 L342.18 140.15 L344.05 140.87 L345.92 141.60 L347.78 142.35 L349.64 143.12 L351.49 143.89 L353.34 144.68 L355.18 145.48 L357.02 146.30 L358.85 147.12 L360.68 147.95 L362.50 148.80 L364.32 149.65 L366.13 150.51 L367.94 151.38 L369.75 152.25 L371.55 153.14 L373.35 154.03 L375.15 154.93 L376.94 155.83 L378.73 156.74 L380.52 157.66 L382.30 158.58 L384.08 159.51 L385.86 160.44 L387.64 161.37 L389.42 162.31 L391.19 163.25 L392.96 164.20 L394.73 165.15 L396.50 166.11 L398.26 167.06 L400.02 168.02 L401.79 168.98 L403.55 169.95 L405.31 170.91 L407.07 171.88 L408.83 172.85 L410.58 173.83 L412.34 174.80 L414.09 175.78 L415.85 176.75 L417.60 177.73 L419.36 178.71 L421.11 179.69 L422.86 180.67 L424.62 181.65 L426.37 182.63 L428.12 183.61 L429.87 184.59 L431.62 185.57 L433.37 186.56 L435.13 187.54 L436.88 188.52 L438.63 189.50 L440.38 190.48 L442.14 191.46 L443.89 192.44 L445.64 193.42 L447.40 194.40 L449.15 195.37 L450.91 196.35 L452.66 197.33 L454.42 198.30 L456.17 199.27 L457.93 200.24 L459.69 201.22 L461.45 202.18 L463.21 203.15 L464.97 204.12 L466.73 205.08 L468.49 206.05 L470.25 207.01 L472.02 207.97 L473.78 208.93 L475.55 209.88 L477.31 210.84 L479.08 211.79 L480.85 212.74 L482.62 213.69 L484.39 214.64 L486.16 215.58 L487.94 216.52 L489.71 217.46 L491.49 218.40 L493.26 219.34 L495.04 220.27 L496.82 221.20 L498.60 222.13 L500.38 223.06 L502.17 223.98 L503.95 224.90 L505.74 225.82 L507.52 226.74 L509.31 227.65 L511.10 228.56 L512.89 229.47 L514.68 230.37 L516.48 231.28 L518.27 232.18 L520.07 233.07 L521.87 233.97 L523.67 234.86 L525.47 235.75 L527.27 236.63 L529.07 237.52 L530.88 238.40 L532.68 239.27 L534.49 240.15 L536.30 241.02 L538.11 241.89 L539.92 242.75 L541.74 243.62 L543.55 244.48 L545.37 245.33 L547.19 246.18 L549.01 247.03 L550.83 247.88 L552.65 248.73 L554.47 249.57 L556.30 250.40 L558.13 251.24 L559.95 252.07 L561.78 252.90 L563.61 253.72 L565.45 254.54 L567.28 255.36 L569.11 256.18 L570.95 256.99 L572.79 257.80 L574.63 258.60 L576.47 259.41 L578.31 260.20 L580.16 261.00 L582.00 261.79 L583.85 262.58 L585.70 263.37 L587.54 264.15 L589.40 264.93 L591.25 265.71 L593.10 266.48 L594.96 267.25 L596.81 268.01 L598.67 268.78 L600.53 269.54 L602.39 270.29 L604.25 271.05 L606.11 271.80 L607.98 272.54 L609.84 273.29 L611.71 274.02 L613.58 274.76 L615.45 275.49 L617.32 276.22 L619.19 276.95 L621.06 277.67 L622.94 278.39 L624.81 279.11 L626.69 279.82 L628.57 280.53 L630.45 281.24 L632.33 281.94 L634.21 282.64 L636.10 283.34 L637.98 284.03 L639.87 284.73 L641.75 285.41 L643.64 286.10 L645.53 286.78 L647.42 287.45 L649.31 288.13 L651.21 288.80 L653.10 289.47 L654.99 290.13 L656.89 290.79 L658.79 291.45 L660.69 292.11 L662.59 292.76 L664.49 293.41 L666.39 294.05 L668.29 294.69 L670.19 295.33 L672.10 295.97 L674.00 296.60 L675.91 297.23 L677.82 297.86 L679.73 298.48 L681.64 299.10 L683.55 299.72 L685.46 300.33 L687.37 300.94 L689.29 301.55 L691.20 302.15 L693.12 302.76 L695.04 303.36 L696.95 303.95 L698.87 304.54 L700.79 305.13 L702.71 305.72 L704.63 306.30 L706.56 306.88 L708.48 307.46 L710.40 308.04 L712.33 308.61 L714.25 309.18 L716.18 309.74 L718.11 310.31 L720.04 310.87 L721.97 311.42 L723.90 311.98 L725.83 312.53 L727.76 313.08 L729.69 313.62 L731.62 314.17 L733.56 314.71 L735.49 315.24 L737.43 315.78 L739.37 316.31 L741.30 316.84 L743.24 317.36 L745.18 317.89 L747.12 318.41 L749.06 318.93 L751.00 319.44 L752.94 319.95 L754.88 320.46 L756.83 320.97 L758.77 321.48 L760.71 321.98 L762.66 322.48 L764.61 322.97 L766.55 323.47 L768.50 323.96 L770.45 324.45 L772.40 324.93 L774.34 325.42 L776.29 325.89 L777.17 326.11" stroke="#ff0000" stroke-dasharray="30.1 5.3 5.5 5.31" stroke-dashoffset="0"/>
</g>
<g stroke="#000" stroke-width="0.4" fill="none">
<line x1="109.80" y1="2.20" x2="109.80" y2="9.40"/>
<line x1="154.23" y1="2.20" x2="154.23" y2="6.90"/>
<line x1="198.67" y1="2.20" x2="198.67" y2="6.90"/>
<line x1="243.10" y1="2.20" x2="243.10" y2="6.90"/>
<line x1="287.53" y1="2.20" x2="287.53" y2="6.90"/>
<line x1="331.96" y1="2.20" x2="331.96" y2="9.40"/>
<line x1="376.40" y1="2.20" x2="376.40" y2="6.90"/>
<line x1="420.83" y1="2.20" x2="420.83" y2="6.90"/>
<line x1="465.26" y1="2.20" x2="465.26" y2="6.90"/>
<line x1="509.70" y1="2.20" x2="509.70" y2="6.90"/>
<line x1="554.13" y1="2.20" x2="554.13" y2="9.40"/>
<line x1="598.56" y1="2.20" x2="598.56" y2="6.90"/>
<line x1="643.00" y1="2.20" x2="643.00" y2="6.90"/>
<line x1="687.43" y1="2.20" x2="687.43" y2="6.90"/>
<line x1="731.86" y1="2.20" x2="731.86" y2="6.90"/>
<line x1="776.29" y1="2.20" x2="776.29" y2="9.40"/>
<line x1="803.70" y1="432.10" x2="796.30" y2="432.10"/>
<line x1="803.70" y1="406.91" x2="799.10" y2="406.91"/>
<line x1="803.70" y1="381.72" x2="799.10" y2="381.72"/>
<line x1="803.70" y1="356.53" x2="799.10" y2="356.53"/>
<line x1="803.70" y1="331.34" x2="799.10" y2="331.34"/>
<line x1="803.70" y1="306.15" x2="796.30" y2="306.15"/>
<line x1="803.70" y1="280.96" x2="799.10" y2="280.96"/>
<line x1="803.70" y1="255.77" x2="799.10" y2="255.77"/>
<line x1="803.70" y1="230.58" x2="799.10" y2="230.58"/>
<line x1="803.70" y1="205.39" x2="799.10" y2="205.39"/>
<line x1="803.70" y1="180.20" x2="796.30" y2="180.20"/>
<line x1="803.70" y1="155.01" x2="799.10" y2="155.01"/>
<line x1="803.70" y1="129.82" x2="799.10" y2="129.82"/>
<line x1="803.70" y1="104.63" x2="799.10" y2="104.63"/>
<line x1="803.70" y1="79.44" x2="799.10" y2="79.44"/>
<line x1="803.70" y1="54.25" x2="796.30" y2="54.25"/>
<line x1="803.70" y1="29.06" x2="799.10" y2="29.06"/>
<line x1="803.70" y1="3.87" x2="799.10" y2="3.87"/>
</g>
<g stroke="#000" stroke-width="2.55" fill="none">
<line x1="109.80" y1="441.50" x2="109.80" y2="436.20"/>
<line x1="154.23" y1="441.50" x2="154.23" y2="437.20"/>
<line x1="198.67" y1="441.50" x2="198.67" y2="437.20"/>
<line x1="243.10" y1="441.50" x2="243.10" y2="437.20"/>
<line x1="287.53" y1="441.50" x2="287.53" y2="437.20"/>
<line x1="331.96" y1="441.50" x2="331.96" y2="436.20"/>
<line x1="376.40" y1="441.50" x2="376.40" y2="437.20"/>
<line x1="420.83" y1="441.50" x2="420.83" y2="437.20"/>
<line x1="465.26" y1="441.50" x2="465.26" y2="437.20"/>
<line x1="509.70" y1="441.50" x2="509.70" y2="437.20"/>
<line x1="554.13" y1="441.50" x2="554.13" y2="436.20"/>
<line x1="598.56" y1="441.50" x2="598.56" y2="437.20"/>
<line x1="643.00" y1="441.50" x2="643.00" y2="437.20"/>
<line x1="687.43" y1="441.50" x2="687.43" y2="437.20"/>
<line x1="731.86" y1="441.50" x2="731.86" y2="437.20"/>
<line x1="776.29" y1="441.50" x2="776.29" y2="436.20"/>
<line x1="93.05" y1="432.10" x2="98.35" y2="432.10"/>
<line x1="93.05" y1="406.91" x2="97.35" y2="406.91"/>
<line x1="93.05" y1="381.72" x2="97.35" y2="381.72"/>
<line x1="93.05" y1="356.53" x2="97.35" y2="356.53"/>
<line x1="93.05" y1="331.34" x2="97.35" y2="331.34"/>
<line x1="93.05" y1="306.15" x2="98.35" y2="306.15"/>
<line x1="93.05" y1="280.96" x2="97.35" y2="280.96"/>
<line x1="93.05" y1="255.77" x2="97.35" y2="255.77"/>
<line x1="93.05" y1="230.58" x2="97.35" y2="230.58"/>
<line x1="93.05" y1="205.39" x2="97.35" y2="205.39"/>
<line x1="93.05" y1="180.20" x2="98.35" y2="180.20"/>
<line x1="93.05" y1="155.01" x2="97.35" y2="155.01"/>
<line x1="93.05" y1="129.82" x2="97.35" y2="129.82"/>
<line x1="93.05" y1="104.63" x2="97.35" y2="104.63"/>
<line x1="93.05" y1="79.44" x2="97.35" y2="79.44"/>
<line x1="93.05" y1="54.25" x2="98.35" y2="54.25"/>
<line x1="93.05" y1="29.06" x2="97.35" y2="29.06"/>
<line x1="93.05" y1="3.87" x2="97.35" y2="3.87"/>
</g>
<rect x="93.05" y="2.2" width="710.65" height="439.30" fill="none" stroke="#000" stroke-width="2.55"/>
<text transform="translate(101.63 477.50) scale(0.870 1)" font-size="34.5px">5</text>
<text transform="translate(315.36 477.50) scale(0.905 1)" font-size="34.5px">10</text>
<text transform="translate(537.38 477.50) scale(0.880 1)" font-size="34.5px">15</text>
<text transform="translate(758.32 477.50) scale(0.930 1)" font-size="34.5px">20</text>
<text transform="translate(43.76 444.60) scale(0.948 1)" font-size="34.5px">0.0</text>
<text transform="translate(43.80 318.60) scale(0.921 1)" font-size="34.5px">0.5</text>
<text transform="translate(44.64 192.60) scale(0.929 1)" font-size="34.5px">1.0</text>
<text transform="translate(44.79 66.50) scale(0.896 1)" font-size="34.5px">1.5</text>
<text transform="translate(679.30 44.00) scale(0.975 1)" font-size="22.4px">q=0</text>
<text transform="translate(679.30 81.80) scale(0.975 1)" font-size="22.4px">q=0.25</text>
<text transform="translate(679.30 119.50) scale(0.975 1)" font-size="22.4px">q=0.5</text>
<text transform="translate(679.30 157.60) scale(0.975 1)" font-size="22.4px">q=1</text>
<text transform="translate(679.30 195.30) scale(0.975 1)" font-size="22.4px">q=3</text>
<text transform="translate(415.34 526.60) scale(1.100 1)" font-size="33.6px" font-style="italic">r</text>
<text transform="translate(431.90 527.40) scale(0.500 1)" font-size="33.0px" font-style="italic" stroke="#000" stroke-width="1.5">/</text>
<text transform="translate(441.19 526.60) scale(1.011 1)" font-size="33.6px" font-style="italic">M</text>
<text transform="translate(467.27 532.80) scale(0.993 1)" font-size="23.5px" font-style="italic">T</text>
<g fill="none" stroke-width="2.4">
<line x1="626.9" y1="38.8" x2="654.4" y2="38.8" stroke="#000"/>
<line x1="601" y1="76.8" x2="652.8" y2="76.8" stroke="#ff00ff" stroke-dasharray="4.1 2.73"/>
<line x1="601.2" y1="114.6" x2="652.8" y2="114.6" stroke="#0000ff" stroke-dasharray="8.1 2.78"/>
<line x1="601" y1="152.5" x2="652.8" y2="152.5" stroke="#00ff00" stroke-dasharray="12.1 6.8"/>
<line x1="601" y1="190.3" x2="652.8" y2="190.3" stroke="#ff0000" stroke-dasharray="21 2.5 4.7 2.5"/>
</g>
<g fill="none" stroke="#000" stroke-width="2.3" stroke-linecap="round" stroke-linejoin="round">
<path d="M2.3 213 C3.6 215.5 4.3 218.8 4.3 222.4 C4.3 225 3.6 227.5 3.7 230.5 C3.9 235.5 5.5 239.5 9.5 241.4 C11.8 242.4 13.8 241.6 14.6 239.8"/>
<path d="M4.4 226.2 C6 228.6 8.6 230.4 11.2 231.2 C15 232.2 19 232.4 22.4 234.1 C26 236 28 239.5 28.9 243.4"/>
<path d="M12.8 222.3 L12.8 236"/>
<path d="M2.2 212.8 L3.2 214.6" stroke-width="3"/>
</g>
<g fill="none" stroke="#000" stroke-width="1.6" stroke-linecap="butt">
<path d="M5.3 203.2 L4.7 207.3 L3.5 211.2 M4.7 207.3 L1 206.6 M4.7 207.3 L8.7 204.2 M4.7 207.3 L8.7 209"/>
</g>
</svg>
</body>
</html>
